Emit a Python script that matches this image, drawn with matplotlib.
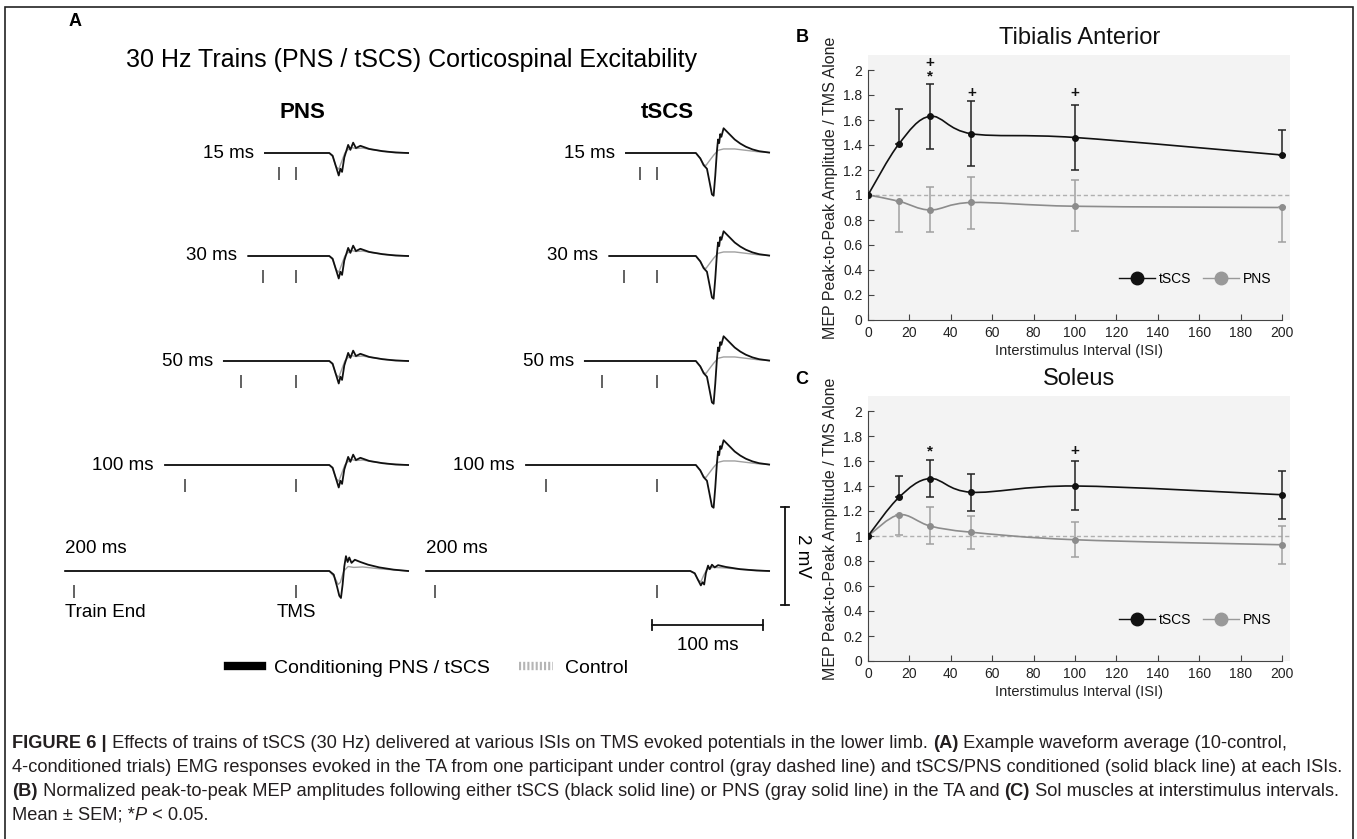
import numpy as np
import matplotlib
matplotlib.use('Agg')
import matplotlib.pyplot as plt
from matplotlib.path import Path
from matplotlib.patches import PathPatch, Rectangle
from matplotlib.lines import Line2D
from matplotlib.text import Annotation
from matplotlib.ticker import FuncFormatter

plt.rcParams['font.family'] = ['Liberation Sans', 'DejaVu Sans']

W, H = 1357, 839

# ---------------- panel B / C : normalized MEP amplitude ----------------
isi = [0, 15, 30, 50, 100, 200]

ta_tscs = [1.0, 1.41, 1.63, 1.49, 1.46, 1.32]
ta_tscs_lo = [0, 0, 0.26, 0.26, 0.26, 0]
ta_tscs_hi = [0, 0.28, 0.26, 0.26, 0.26, 0.20]
ta_pns = [1.0, 0.95, 0.88, 0.94, 0.91, 0.90]
ta_pns_lo = [0, 0.25, 0.18, 0.21, 0.20, 0.28]
ta_pns_hi = [0, 0, 0.18, 0.20, 0.21, 0]

sol_tscs = [1.0, 1.31, 1.46, 1.35, 1.40, 1.33]
sol_tscs_lo = [0, 0, 0.15, 0.15, 0.19, 0.19]
sol_tscs_hi = [0, 0.17, 0.15, 0.15, 0.20, 0.19]
sol_pns = [1.0, 1.17, 1.08, 1.03, 0.97, 0.93]
sol_pns_lo = [0, 0.16, 0.14, 0.13, 0.14, 0.15]
sol_pns_hi = [0, 0, 0.15, 0.13, 0.14, 0.15]

# significance marks (isi, height, symbol)
ta_marks = [(30, 2.06, '+'), (30, 1.95, '*'), (50, 1.82, '+'), (100, 1.82, '+')]
sol_marks = [(30, 1.68, '*'), (100, 1.68, '+')]

# ---------------- panel A : example waveforms (ms after TMS, mV) ----------------
row_isi = [15, 30, 50, 100, 200]
row_start = [-28, -43, -65, -118, -208]

pns_cond_t = [30, 33, 36, 38.5, 40, 41.5, 43.5, 47, 49, 51.5, 54, 58, 66, 78, 90, 101]
pns_cond_mv = [0, -0.06, -0.3, -0.5, -0.35, -0.42, -0.1, 0.18, 0.07, 0.23, 0.11, 0.16, 0.09, 0.04, 0.01, 0]
pns_ctrl_t = [30, 33, 36, 38.5, 41, 44, 47, 50, 54, 60, 70, 82, 101]
pns_ctrl_mv = [0, -0.08, -0.3, -0.36, -0.2, 0.0, 0.08, 0.12, 0.1, 0.11, 0.07, 0.03, 0]

tscs_cond_t = [35, 39, 42, 45, 47, 49.5, 51, 52.5, 54, 55, 56, 57, 58, 60, 62, 66, 70, 75, 80, 86, 92, 101]
tscs_cond_mv = [0, -0.12, -0.27, -0.35, -0.6, -0.92, -0.95, -0.5, 0.05, 0.3, 0.22, 0.42, 0.36, 0.55, 0.5,
                0.4, 0.3, 0.21, 0.14, 0.08, 0.04, 0.01]
tscs_ctrl_t = [35, 39, 42, 44, 47, 51, 55, 60, 70, 80, 90, 101]
tscs_ctrl_mv = [0, -0.12, -0.25, -0.28, -0.18, -0.05, 0.06, 0.09, 0.09, 0.06, 0.03, 0.01]

# 200 ms row differs: left trace large, right trace small
big200_cond_t = [30, 34, 37, 39, 40.5, 42, 43.5, 45, 46.5, 48, 50, 53, 58, 65, 75, 88, 101]
big200_cond_mv = [0, -0.08, -0.35, -0.55, -0.6, -0.3, 0.1, 0.33, 0.2, 0.3, 0.18, 0.25, 0.2, 0.14, 0.08, 0.03, 0]
big200_ctrl_t = [30, 35, 38, 40, 43, 47, 52, 60, 75, 101]
big200_ctrl_mv = [0, -0.15, -0.3, -0.25, 0.0, 0.1, 0.08, 0.09, 0.05, 0]
small200_cond_t = [30, 34, 37, 39.5, 41, 42.5, 44, 46, 47.5, 49.5, 52, 55, 62, 75, 90, 101]
small200_cond_mv = [0, -0.05, -0.2, -0.32, -0.25, -0.3, -0.05, 0.12, 0.04, 0.14, 0.08, 0.13, 0.09, 0.04, 0.01, 0]
small200_ctrl_t = [30, 34, 37, 39.5, 42, 45, 50, 60, 75, 101]
small200_ctrl_mv = [0, -0.06, -0.2, -0.24, -0.1, 0.04, 0.08, 0.07, 0.04, 0]

shapes = {
    'pns': (pns_cond_t, pns_cond_mv, pns_ctrl_t, pns_ctrl_mv),
    'tscs': (tscs_cond_t, tscs_cond_mv, tscs_ctrl_t, tscs_ctrl_mv),
    'big200': (big200_cond_t, big200_cond_mv, big200_ctrl_t, big200_ctrl_mv),
    'small200': (small200_cond_t, small200_cond_mv, small200_ctrl_t, small200_ctrl_mv),
}
pns_col_shapes = ['pns', 'pns', 'pns', 'pns', 'big200']
tscs_col_shapes = ['tscs', 'tscs', 'tscs', 'tscs', 'small200']

fig = plt.figure(figsize=(W / 100, H / 100), dpi=100)


def px_axes(left, top, width, height):
    return fig.add_axes([left / W, 1 - (top + height) / H, width / W, height / H])


def smooth_path(x, y):
    # catmull-rom style smoothed line through the points (like the original's smoothed series)
    pts = np.column_stack([x, y]).astype(float)
    n = len(pts)
    verts = [pts[0]]
    codes = [Path.MOVETO]
    for i in range(n - 1):
        p0 = pts[max(i - 1, 0)]
        p1 = pts[i]
        p2 = pts[i + 1]
        p3 = pts[min(i + 2, n - 1)]
        verts += [p1 + (p2 - p0) / 6, p2 - (p3 - p1) / 6, p2]
        codes += [Path.CURVE4] * 3
    return Path(verts, codes)


def mep_panel(top, title, tscs, tscs_lo, tscs_hi, pns, pns_lo, pns_hi, marks):
    ax = px_axes(868, top, 204 * 2.07, 2.12 * 125)
    ax.set_facecolor('#f3f3f3')
    ax.set_xlim(0, 204)
    ax.set_ylim(0, 2.12)
    ax.axhline(1, color='#b0b0b0', lw=1, ls=(0, (3, 2)), zorder=1)

    ax.add_patch(PathPatch(smooth_path(isi, pns), fill=False, ec='#8c8c8c', lw=1.2, zorder=2))
    ax.errorbar(isi, pns, yerr=[pns_lo, pns_hi], fmt='none', ecolor='#a0a0a0', elinewidth=1.1,
                capsize=3, capthick=1.1, zorder=2)
    ax.plot(isi, pns, 'o', color='#8c8c8c', ms=4, zorder=3)

    ax.add_patch(PathPatch(smooth_path(isi, tscs), fill=False, ec='#111111', lw=1.2, zorder=4))
    ax.errorbar(isi, tscs, yerr=[tscs_lo, tscs_hi], fmt='none', ecolor='#222222', elinewidth=1.1,
                capsize=3, capthick=1.1, zorder=4)
    ax.plot(isi, tscs, 'o', color='#111111', ms=4, zorder=5)

    for x, y, s in marks:
        ax.text(x, y, s, ha='center', va='center', fontsize=11, fontweight='bold', color='#111111')

    for side in ['top', 'right']:
        ax.spines[side].set_visible(False)
    for side in ['left', 'bottom']:
        ax.spines[side].set_color('#444444')
    ax.spines['left'].set_bounds(0, 2)
    ax.spines['bottom'].set_bounds(0, 200)
    ax.set_xticks(range(0, 201, 20))
    ax.set_yticks(np.arange(0, 2.01, 0.2))
    ax.yaxis.set_major_formatter(FuncFormatter(lambda v, p: '%g' % round(v, 1)))
    ax.tick_params(direction='in', length=4, color='#444444', labelsize=10, labelcolor='#222222', pad=4)
    ax.set_xlabel('Interstimulus Interval (ISI)', fontsize=10.5, labelpad=3, color='#222222')
    ax.set_ylabel('MEP Peak-to-Peak Amplitude / TMS Alone', fontsize=11.5, labelpad=4, color='#222222')
    ax.set_title(title, fontsize=17, pad=8, color='#111111')

    h = [Line2D([], [], color='#111111', marker='o', ms=9, lw=1),
         Line2D([], [], color='#999999', marker='o', ms=9, lw=1)]
    ax.legend(h, ['tSCS', 'PNS'], loc='center right', bbox_to_anchor=(0.985, 0.156), ncol=2,
              frameon=False, fontsize=10, handlelength=2.6, handletextpad=0.3, columnspacing=0.8)
    return ax


mep_panel(55, 'Tibialis Anterior', ta_tscs, ta_tscs_lo, ta_tscs_hi, ta_pns, ta_pns_lo, ta_pns_hi, ta_marks)
mep_panel(396, 'Soleus', sol_tscs, sol_tscs_lo, sol_tscs_hi, sol_pns, sol_pns_lo, sol_pns_hi, sol_marks)

# ---------------- panel A ----------------
PX_MS, PX_MV = 1.11, 45
T_LO, T_HI = -225, 140
V_LO, V_HI = -1.8, 1.6
row_base_px = [153, 256, 361, 465, 571]

for tms_px, col_shapes in [(296, pns_col_shapes), (657, tscs_col_shapes)]:
    for r in range(5):
        base = row_base_px[r]
        ax = px_axes(tms_px + T_LO * PX_MS, base - V_HI * PX_MV, (T_HI - T_LO) * PX_MS, (V_HI - V_LO) * PX_MV)
        ax.set_xlim(T_LO, T_HI)
        ax.set_ylim(V_LO, V_HI)
        ax.axis('off')
        ax.patch.set_visible(False)

        ct, cv, kt, kv = shapes[col_shapes[r]]
        start = row_start[r]
        ax.plot([start] + kt, [0] + kv, color='#a0a0a0', lw=1.0, clip_on=False)
        ax.plot([start] + ct, [0] + cv, color='#111111', lw=1.3, clip_on=False)
        ax.vlines([-row_isi[r], 0], -0.61, -0.32, color='#555555', lw=1.3)

        if row_isi[r] == 200:
            ax.text(start, 0.5, '%d ms' % row_isi[r], ha='left', va='center', fontsize=13.5)
        else:
            ax.text(start - 10, 0, '%d ms' % row_isi[r], ha='right', va='center', fontsize=13.5)

        if r == 4 and tms_px == 296:
            ax.text(-208, -0.93, 'Train End', ha='left', va='center', fontsize=13.5)
            ax.text(0, -0.93, 'TMS', ha='center', va='center', fontsize=13.5)
        if r == 4 and tms_px == 657:
            # 2 mV and 100 ms scale bars
            ax.plot([115.5, 115.5], [-0.75, 1.42], color='#111111', lw=1.3, clip_on=False)
            ax.plot([112, 119], [1.42, 1.42], color='#111111', lw=1.3, clip_on=False)
            ax.plot([112, 119], [-0.75, -0.75], color='#111111', lw=1.3, clip_on=False)
            ax.text(131, 0.34, '2 mV', rotation=270, ha='center', va='center', fontsize=13.5)
            ax.plot([-4.5, 95.5], [-1.2, -1.2], color='#111111', lw=1.3, clip_on=False)
            ax.plot([-4.5, -4.5], [-1.31, -1.09], color='#111111', lw=1.3, clip_on=False)
            ax.plot([95.5, 95.5], [-1.31, -1.09], color='#111111', lw=1.3, clip_on=False)
            ax.text(45.5, -1.66, '100 ms', ha='center', va='center', fontsize=13.5)

fig.text(412 / W, 1 - 60 / H, '30 Hz Trains (PNS / tSCS) Corticospinal Excitability',
         ha='center', va='center', fontsize=18)
fig.text(302 / W, 1 - 112 / H, 'PNS', ha='center', va='center', fontsize=16, fontweight='bold')
fig.text(667 / W, 1 - 112 / H, 'tSCS', ha='center', va='center', fontsize=16, fontweight='bold')

leg_h = [Line2D([], [], color='black', lw=6),
         Line2D([], [], color='#b5b5b5', lw=6, ls=(0, (0.25, 0.25)))]
fig.legend(leg_h, ['Conditioning PNS / tSCS', 'Control'], loc='center',
           bbox_to_anchor=(428 / W, 1 - 668 / H), ncol=2, frameon=False, fontsize=14,
           handlelength=1.75, handletextpad=0.6, columnspacing=1.5)

# panel letters
for x, y, s in [(75, 22, 'A'), (802, 37, 'B'), (802, 380, 'C')]:
    fig.text(x / W, 1 - y / H, s, ha='center', va='center', fontsize=13, fontweight='bold')

# frame
fig.add_artist(Rectangle((5 / W, -0.1), 1348 / W, 1.1 - 7 / H, transform=fig.transFigure,
                         fill=False, lw=1.2, ec='#222222'))

# ---------------- caption ----------------
caption = [
    [('FIGURE 6 |', 'bold'), (' Effects of trains of tSCS (30 Hz) delivered at various ISIs on TMS evoked '
                             'potentials in the lower limb. ', 'normal'), ('(A)', 'bold'),
     (' Example waveform average (10-control,', 'normal')],
    [('4-conditioned trials) EMG responses evoked in the TA from one participant under control (gray dashed '
      'line) and tSCS/PNS conditioned (solid black line) at each ISIs.', 'normal')],
    [('(B)', 'bold'), (' Normalized peak-to-peak MEP amplitudes following either tSCS (black solid line) or PNS '
                      '(gray solid line) in the TA and ', 'normal'), ('(C)', 'bold'),
     (' Sol muscles at interstimulus intervals.', 'normal')],
    [('Mean \u00b1 SEM; *', 'normal'), ('P', 'italic'), (' < 0.05.', 'normal')],
]
cap_y = [743, 767, 791, 815]
for line, y in zip(caption, cap_y):
    prev = None
    for s, style in line:
        kw = dict(fontsize=13.15, color='#231f20')
        if style == 'bold':
            kw['fontweight'] = 'bold'
        if style == 'italic':
            kw['fontstyle'] = 'italic'
        if prev is None:
            prev = fig.text(12 / W, 1 - y / H, s, ha='left', va='center', **kw)
        else:
            prev = fig.add_artist(Annotation(s, xy=(1, 0), xycoords=prev, ha='left', va='bottom', **kw))

fig.savefig('out.png', dpi=100)
